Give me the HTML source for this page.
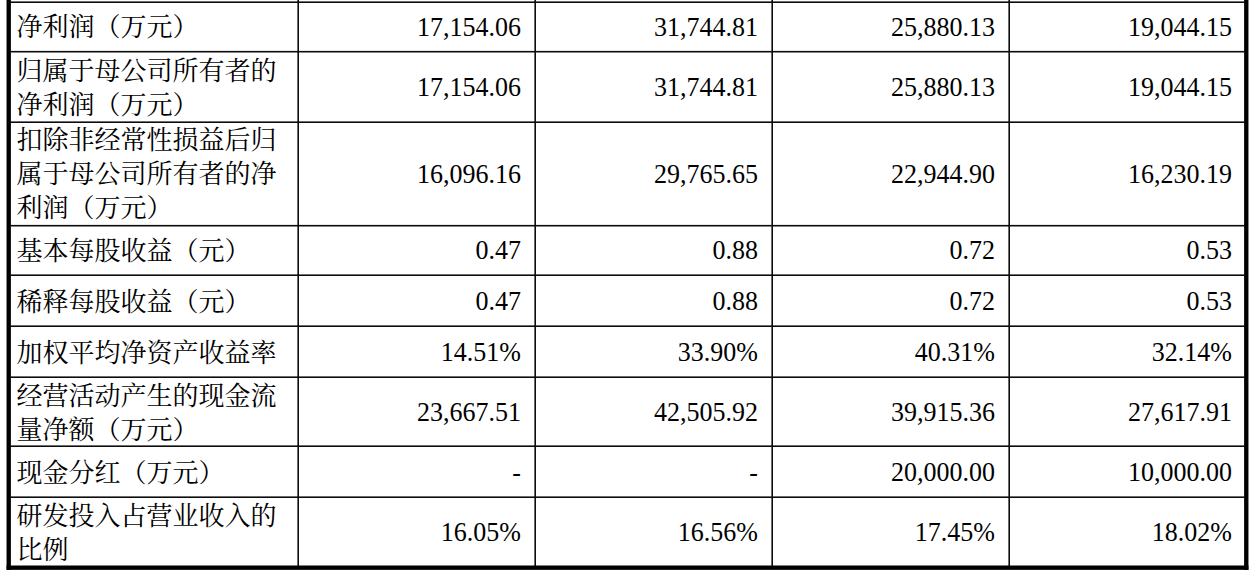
<!DOCTYPE html>
<html lang="zh-CN">
<head>
<meta charset="utf-8">
<title>主要财务指标</title>
<style>
html,body{margin:0;padding:0;background:#fff}
body{width:1252px;height:575px;position:relative;overflow:hidden;font-family:"Liberation Serif",serif;color:#000}
#grid{position:absolute;left:0;top:0;width:1252px;height:575px;pointer-events:none}
table{position:absolute;left:9px;top:2px;border-collapse:collapse;table-layout:fixed;width:1237px}
td,th{padding:0;margin:0;border:0;vertical-align:middle;font-weight:normal;font-size:26px;line-height:34px;overflow:visible}
th{text-align:left}
td{text-align:right;padding-right:14px}
td span{position:relative;display:inline-block;transform-origin:0 76%;transform:scaleY(1.035)}
th svg{display:block;overflow:visible;fill:#000}
th svg text{font-family:"Liberation Serif","Noto Serif CJK SC",serif;font-size:26px;fill:#000}

tr:nth-child(1) td span{top:1px}
tr:nth-child(2) td span{top:1px}
tr:nth-child(3) td span{top:1px}
tr:nth-child(5) td span{top:1px}
tr:nth-child(6) td span{top:1px}
tr:nth-child(7) td span{top:1px}
tr:nth-child(8) td span{top:1px}
tr:nth-child(9) td span{top:1px}
</style>
</head>
<body>
<table>
<colgroup><col style="width:289px"><col style="width:237px"><col style="width:237px"><col style="width:237px"><col style="width:237px"></colgroup>
<tr style="height:49px">
<th scope="row"><svg width="289" height="49" viewBox="0 0 289 49" role="img" aria-label="净利润（万元）"><text x="7.6" y="34.3">净利润（万元）</text></svg></th>
<td><span>17,154.06</span></td>
<td><span>31,744.81</span></td>
<td><span>25,880.13</span></td>
<td><span>19,044.15</span></td>
</tr>
<tr style="height:71px">
<th scope="row"><svg width="289" height="71" viewBox="0 0 289 71" role="img" aria-label="归属于母公司所有者的净利润（万元）"><text x="7.6" y="28.8">归属于母公司所有者的</text><text x="7.6" y="63.4">净利润（万元）</text></svg></th>
<td><span>17,154.06</span></td>
<td><span>31,744.81</span></td>
<td><span>25,880.13</span></td>
<td><span>19,044.15</span></td>
</tr>
<tr style="height:104px">
<th scope="row"><svg width="289" height="104" viewBox="0 0 289 104" role="img" aria-label="扣除非经常性损益后归属于母公司所有者的净利润（万元）"><text x="7.6" y="27.45">扣除非经常性损益后归</text><text x="7.6" y="61.15">属于母公司所有者的净</text><text x="7.6" y="94.85">利润（万元）</text></svg></th>
<td><span>16,096.16</span></td>
<td><span>29,765.65</span></td>
<td><span>22,944.90</span></td>
<td><span>16,230.19</span></td>
</tr>
<tr style="height:49px">
<th scope="row"><svg width="289" height="49" viewBox="0 0 289 49" role="img" aria-label="基本每股收益（元）"><text x="7.6" y="34.05">基本每股收益（元）</text></svg></th>
<td><span>0.47</span></td>
<td><span>0.88</span></td>
<td><span>0.72</span></td>
<td><span>0.53</span></td>
</tr>
<tr style="height:51px">
<th scope="row"><svg width="289" height="51" viewBox="0 0 289 51" role="img" aria-label="稀释每股收益（元）"><text x="7.6" y="35.95">稀释每股收益（元）</text></svg></th>
<td><span>0.47</span></td>
<td><span>0.88</span></td>
<td><span>0.72</span></td>
<td><span>0.53</span></td>
</tr>
<tr style="height:51px">
<th scope="row"><svg width="289" height="51" viewBox="0 0 289 51" role="img" aria-label="加权平均净资产收益率"><text x="7.6" y="35.85">加权平均净资产收益率</text></svg></th>
<td><span>14.51%</span></td>
<td><span>33.90%</span></td>
<td><span>40.31%</span></td>
<td><span>32.14%</span></td>
</tr>
<tr style="height:69px">
<th scope="row"><svg width="289" height="69" viewBox="0 0 289 69" role="img" aria-label="经营活动产生的现金流量净额（万元）"><text x="7.6" y="27.95">经营活动产生的现金流</text><text x="7.6" y="61.7">量净额（万元）</text></svg></th>
<td><span>23,667.51</span></td>
<td><span>42,505.92</span></td>
<td><span>39,915.36</span></td>
<td><span>27,617.91</span></td>
</tr>
<tr style="height:51px">
<th scope="row"><svg width="289" height="51" viewBox="0 0 289 51" role="img" aria-label="现金分红（万元）"><text x="7.6" y="36.05">现金分红（万元）</text></svg></th>
<td><span>-</span></td>
<td><span>-</span></td>
<td><span>20,000.00</span></td>
<td><span>10,000.00</span></td>
</tr>
<tr style="height:69px">
<th scope="row"><svg width="289" height="69" viewBox="0 0 289 69" role="img" aria-label="研发投入占营业收入的比例"><text x="7.6" y="28.15">研发投入占营业收入的</text><text x="7.6" y="61.55">比例</text></svg></th>
<td><span>16.05%</span></td>
<td><span>16.56%</span></td>
<td><span>17.45%</span></td>
<td><span>18.02%</span></td>
</tr>
</table>
<svg id="grid" width="1252" height="575" viewBox="0 0 1252 575" aria-hidden="true" fill="#0c0c0c"><rect x="10.40" y="1.40" width="1234.20" height="1.60"/><rect x="10.40" y="50.90" width="1234.20" height="1.60"/><rect x="10.40" y="121.40" width="1234.20" height="1.60"/><rect x="10.40" y="224.90" width="1234.20" height="1.60"/><rect x="10.40" y="274.40" width="1234.20" height="1.60"/><rect x="10.40" y="325.40" width="1234.20" height="1.60"/><rect x="10.40" y="376.40" width="1234.20" height="1.60"/><rect x="10.40" y="445.40" width="1234.20" height="1.60"/><rect x="10.40" y="496.40" width="1234.20" height="1.60"/><rect x="297.40" y="0" width="1.60" height="566.00"/><rect x="534.40" y="0" width="1.60" height="566.00"/><rect x="771.40" y="0" width="1.60" height="566.00"/><rect x="1008.40" y="0" width="1.60" height="566.00"/><rect x="6.55" y="0" width="4.35" height="569.85" fill="#000"/><rect x="1244.10" y="0" width="4.35" height="569.85" fill="#000"/><rect x="6.55" y="565.50" width="1241.90" height="4.35" fill="#000"/></svg>
</body>
</html>
